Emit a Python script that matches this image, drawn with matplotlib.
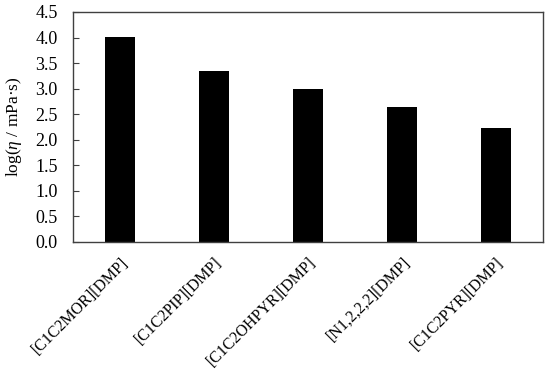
import numpy as np
import matplotlib.pyplot as plt

plt.rcParams['font.family'] = ['Liberation Serif', 'DejaVu Serif']
plt.rcParams['mathtext.fontset'] = 'custom'
plt.rcParams['mathtext.it'] = 'Liberation Serif:italic'
plt.rcParams['mathtext.rm'] = 'Liberation Serif'

names = ["[C1C2MOR][DMP]", "[C1C2PIP][DMP]", "[C1C2OHPYR][DMP]", "[N1,2,2,2][DMP]", "[C1C2PYR][DMP]"]
log_eta = [4.01, 3.35, 2.99, 2.65, 2.23]

fig = plt.figure(figsize=(5.5, 3.73), dpi=100)
ax = fig.add_axes([73/550, 1-242/373, 470/550, 230/373])

x = np.arange(len(names))
ax.bar(x, log_eta, width=0.32, color='black')
ax.set_xlim(-0.5, len(names)-0.5)
ax.set_ylim(0, 4.5)
ax.set_yticks(np.arange(0, 4.51, 0.5))
ax.set_yticklabels(["%.1f" % v for v in np.arange(0, 4.51, 0.5)], fontsize=13)
ax.set_xticks(x)
ax.set_xticklabels(names, rotation=45, ha='right', rotation_mode='anchor', fontsize=11.5)
ax.tick_params(axis='x', length=0, pad=9)
ax.tick_params(axis='y', direction='in', length=4, pad=11, color='#404040')
for s in ax.spines.values():
    s.set_color('#404040')
    s.set_linewidth(1.0)
ax.set_ylabel(r"log($\eta$ / mPa·s)", fontsize=12.5, labelpad=8)

fig.savefig("out.png", dpi=100)
